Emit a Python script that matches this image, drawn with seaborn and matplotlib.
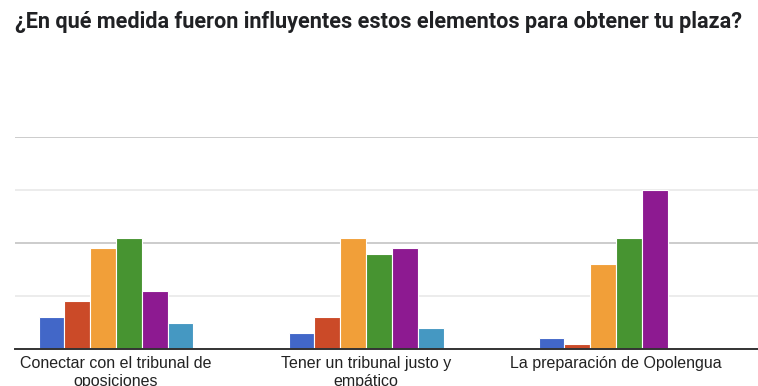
import pandas as pd
import seaborn as sns
import matplotlib.pyplot as plt
from matplotlib.ticker import MultipleLocator, NullFormatter

# Data
categories = ["Conectar con el tribunal de\noposiciones",
              "Tener un tribunal justo y\nempático",
              "La preparación de Opolengua"]
levels = ["1", "2", "3", "4", "5", "6"]
values_conectar = [6, 9, 19, 21, 11, 5]
values_tribunal = [3, 6, 21, 18, 19, 4]
values_opolengua = [2, 1, 16, 21, 30, 0]

colors = ["#4267c8", "#cb4a28", "#f19f39", "#479431", "#8d1a91", "#4598c2"]

rows = []
for cat, vals in zip(categories, [values_conectar, values_tribunal, values_opolengua]):
    for lvl, v in zip(levels, vals):
        rows.append({"elemento": cat, "nivel": lvl, "respuestas": v})
df = pd.DataFrame(rows)

sns.set_style("white")
plt.rcParams["font.family"] = ["Liberation Sans", "DejaVu Sans"]

W, H = 758, 386
fig = plt.figure(figsize=(W / 100, H / 100), dpi=100)
ax = fig.add_axes([15 / W, (H - 349) / H, 1 - 15 / W, (349 - 137) / H])

sns.barplot(data=df, x="elemento", y="respuestas", hue="nivel", palette=colors,
            saturation=1, width=0.62, edgecolor="white", linewidth=0.8,
            ax=ax, legend=False)

# map category centres to the reference pixel positions
ax.set_xlim((15 - 116) / 250, (758 - 116) / 250)
ax.set_ylim(0, 40)
ax.yaxis.set_major_locator(MultipleLocator(20))
ax.yaxis.set_minor_locator(MultipleLocator(10))
ax.yaxis.set_major_formatter(NullFormatter())
ax.grid(which="major", axis="y", color="#c8c8c8", linewidth=1.3)
ax.grid(which="minor", axis="y", color="#ebebeb", linewidth=1.3)
ax.set_axisbelow(True)
ax.tick_params(axis="y", which="both", length=0)
ax.tick_params(axis="x", length=0, pad=5, labelsize=11.5, labelcolor="#222222")
for lbl in ax.get_xticklabels():
    lbl.set_linespacing(1.25)

for side in ["top", "right", "left"]:
    ax.spines[side].set_visible(False)
ax.spines["bottom"].set_color("#333333")
ax.spines["bottom"].set_linewidth(1.4)
ax.set_xlabel("")
ax.set_ylabel("")

fig.text(15 / W, 1 - 22 / H,
         "¿En qué medida fueron influyentes estos elementos para obtener tu plaza?",
         fontsize=15.6, fontweight="bold", family=["Roboto", "DejaVu Sans"],
         color="#202124", va="center", ha="left")

plt.savefig("out.png", dpi=100)
